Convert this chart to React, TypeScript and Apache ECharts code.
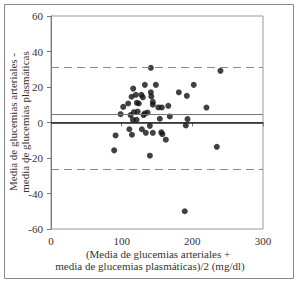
import React, { useEffect, useRef } from "react";
import * as echarts from "echarts";

const xValues = [89.4, 91.4, 98.5, 102.2, 109.2, 114, 116.3, 110.9, 114.5, 112.6, 117.3, 115.9, 122.7, 120.1, 121.5, 127.9, 130, 132.8, 141.3, 148.4, 141.3, 142, 144.1, 144.1, 151.9, 156.8, 166, 180.9, 192.2, 202, 220, 239.8, 132.8, 131, 136.6, 154, 168.1, 139.9, 128.6, 134.2, 144.1, 156.1, 157.6, 162.5, 139.9, 193.2, 190.8, 234.6, 189.3, 121.1, 124.3];
const yValues = [-15.7, -7.3, 4.7, 8.8, 10.7, 14.5, 19.1, -3.8, -6.9, 4.2, 5.8, 1.5, 6.2, 15.6, 11.1, 15.6, 14.2, 21.2, 30.8, 21.2, 17, 14.7, 11.6, 10, 8.5, 8.5, 9.4, 17, 15, 21.2, 8.4, 29.1, 5.1, 4.2, 5.6, 2.1, 3.4, -1.9, -3.8, -5.8, -5.8, -5.5, -6.6, -9.7, -18.7, 1.9, -1.7, -13.7, -50, 1.5, 10.7];
const upperLimit = 31;
const lowerLimit = -26.2;
const meanDiff = 4.7;
const xTicks = [0, 100, 200, 300];
const yTicks = [-60, -40, -20, 0, 20, 40, 60];
const yTitle = ["Media de glucemias arteriales -", "media de glucemias plasmáticas"];
const xTitle = ["(Media de glucemias arteriales +", "media de glucemias plasmáticas)/2 (mg/dl)"];

const FONT = "Liberation Serif";

export default function App() {
  const ref = useRef<HTMLDivElement>(null);
  useEffect(() => {
    if (!ref.current) return;
    const chart = echarts.init(ref.current, null, { renderer: "svg" });
    const points = xValues.map((x, i) => [x, yValues[i]]);
    chart.setOption({
      animation: false,
      backgroundColor: "#fff",
      grid: { left: 51, right: 37, top: 16, bottom: 55, show: true, borderColor: "#999", borderWidth: 1, backgroundColor: "transparent" },
      xAxis: {
        type: "value",
        min: xTicks[0],
        max: xTicks[xTicks.length - 1],
        interval: 100,
        axisLine: { show: true, lineStyle: { color: "#777", width: 1 } },
        axisTick: { show: true, length: 4, lineStyle: { color: "#777" } },
        axisLabel: { fontFamily: FONT, fontSize: 11, color: "#333", margin: 6 },
        splitLine: { show: false },
      },
      yAxis: {
        type: "value",
        min: yTicks[0],
        max: yTicks[yTicks.length - 1],
        interval: 20,
        axisLine: { show: true, lineStyle: { color: "#777", width: 1 } },
        axisTick: { show: true, length: 4, lineStyle: { color: "#777" } },
        axisLabel: { fontFamily: FONT, fontSize: 11, color: "#333", margin: 8 },
        splitLine: { show: false },
      },
      series: [
        {
          type: "scatter",
          data: points,
          symbol: "circle",
          symbolSize: 6,
          itemStyle: { color: "#111" },
          markLine: {
            silent: true,
            symbol: "none",
            label: { show: false },
            data: [
              { yAxis: upperLimit, lineStyle: { color: "#888", type: [8, 5], width: 1 } },
              { yAxis: lowerLimit, lineStyle: { color: "#888", type: [8, 5], width: 1 } },
              { yAxis: meanDiff, lineStyle: { color: "#777", type: "solid", width: 1 } },
              { yAxis: 0, lineStyle: { color: "#222", type: "solid", width: 1.6 } },
            ],
          },
        },
      ],
      graphic: [
        { type: "rect", shape: { x: 4.5, y: 4.5, width: 289, height: 274 }, style: { fill: "none", stroke: "#888", lineWidth: 1 }, silent: true },
        {
          type: "text",
          x: 13,
          y: 122,
          rotation: Math.PI / 2,
          style: { text: yTitle[0], fontFamily: FONT, fontSize: 11, fill: "#333", align: "center", verticalAlign: "middle" },
        },
        {
          type: "text",
          x: 25,
          y: 122,
          rotation: Math.PI / 2,
          style: { text: yTitle[1], fontFamily: FONT, fontSize: 11, fill: "#333", align: "center", verticalAlign: "middle" },
        },
        {
          type: "text",
          x: 158,
          y: 254,
          style: { text: xTitle[0], fontFamily: FONT, fontSize: 11, fill: "#333", align: "center", verticalAlign: "middle" },
        },
        {
          type: "text",
          x: 150,
          y: 266,
          style: { text: xTitle[1], fontFamily: FONT, fontSize: 11, fill: "#333", align: "center", verticalAlign: "middle" },
        },
      ],
    });
    return () => chart.dispose();
  }, []);
  return <div ref={ref} style={{ width: 300, height: 284, position: "absolute", left: 0, top: 0 }} />;
}
